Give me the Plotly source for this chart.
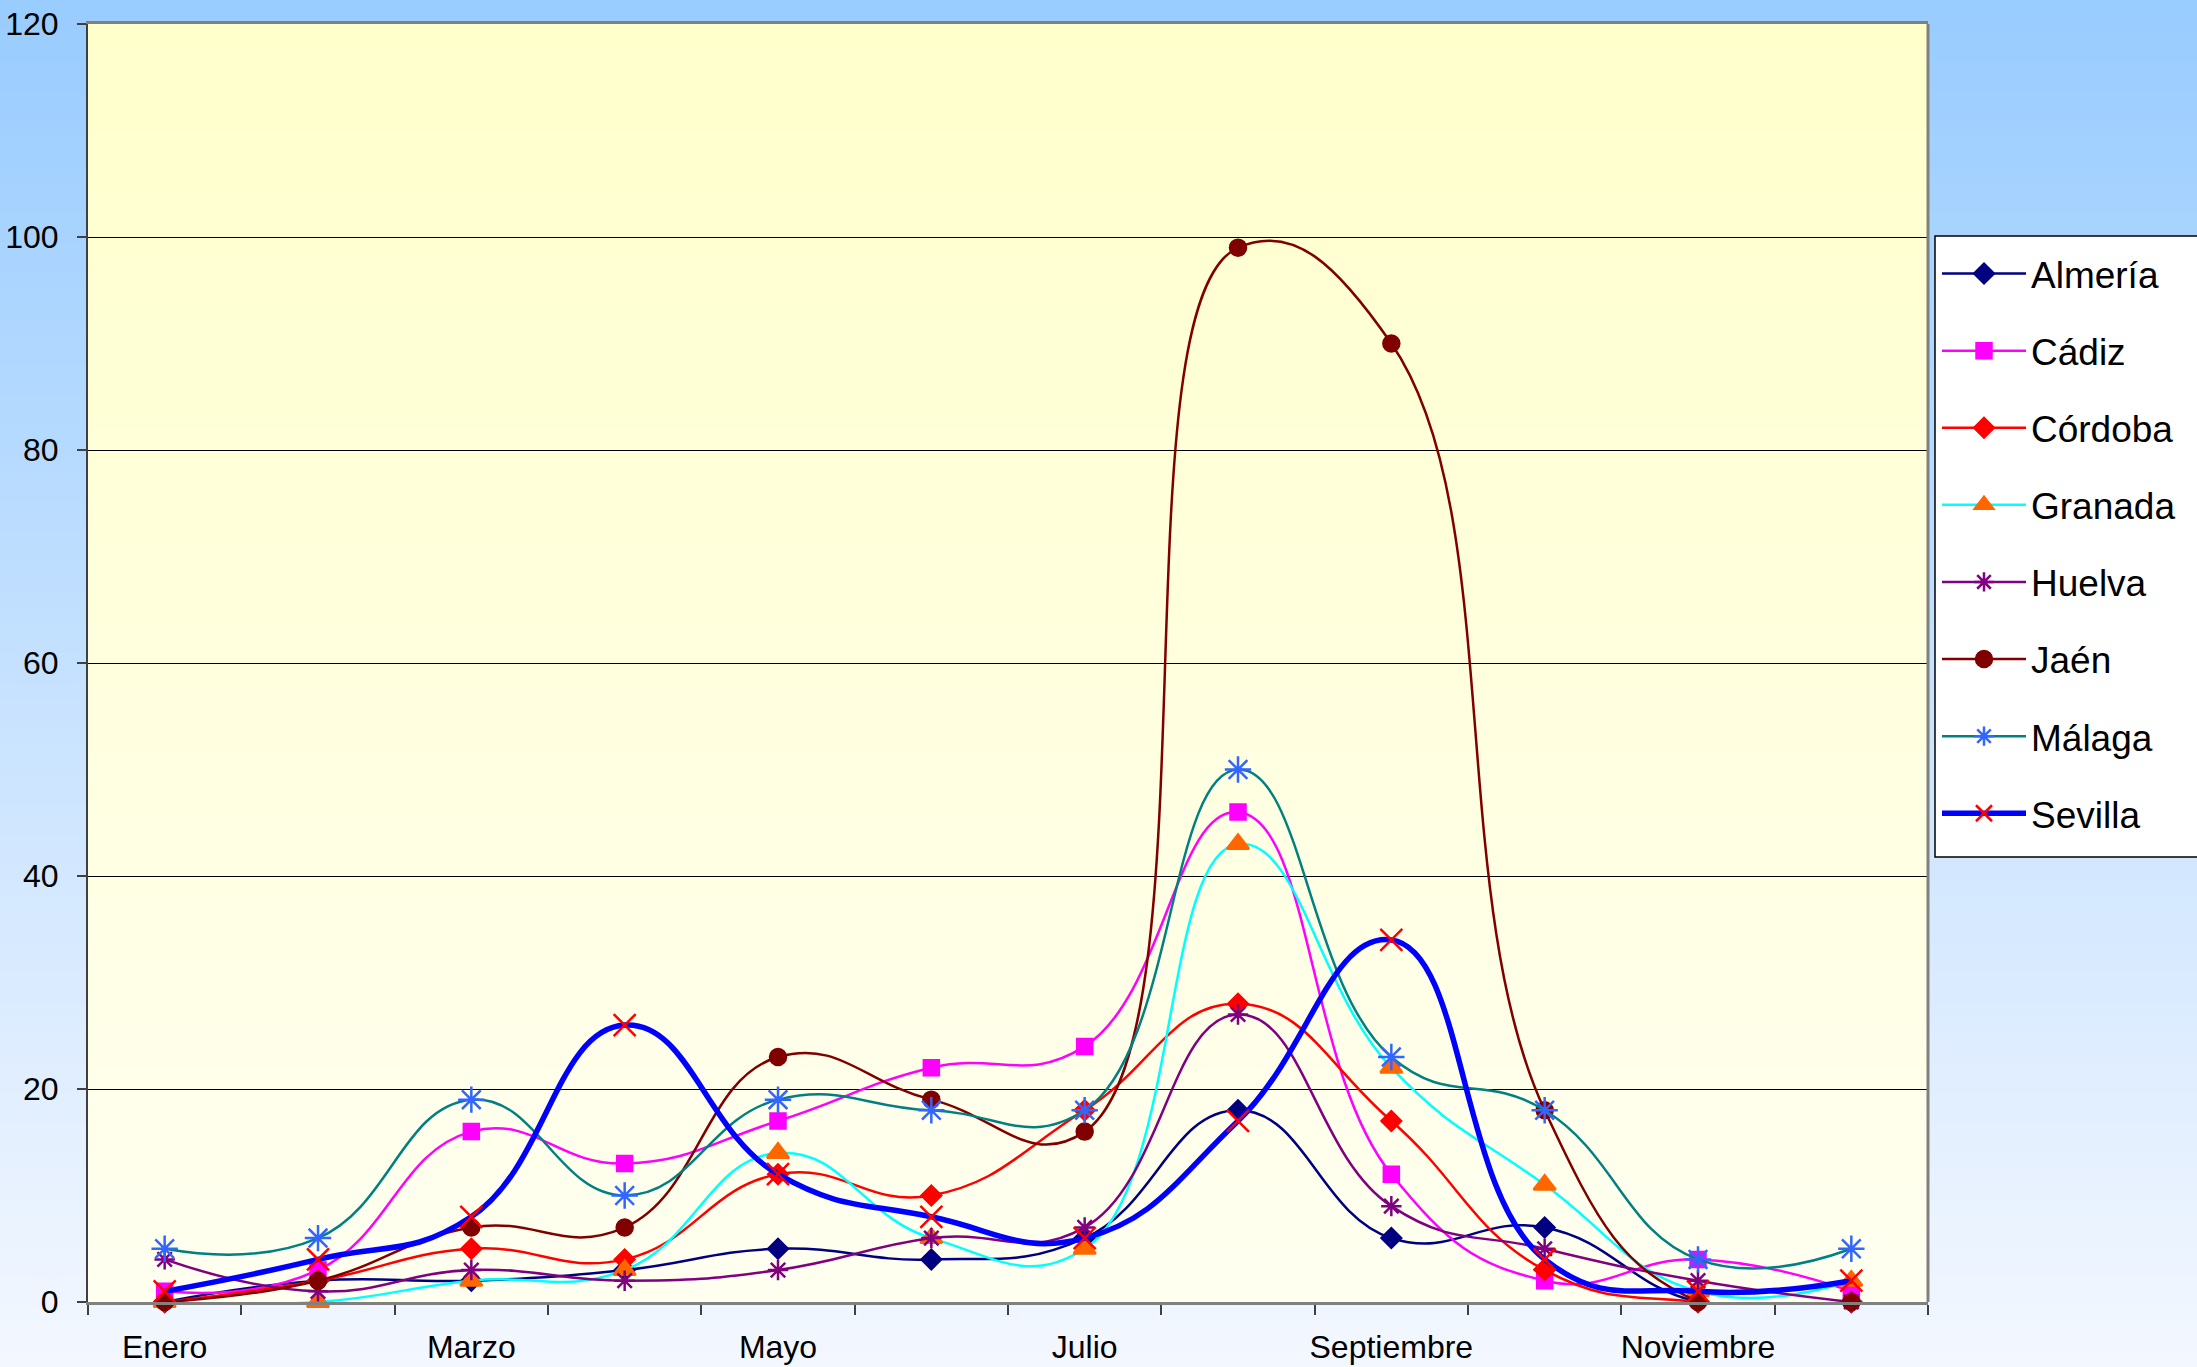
import plotly.graph_objects as go

# months on the x axis
months = ['Enero', 'Febrero', 'Marzo', 'Abril', 'Mayo', 'Junio', 'Julio',
          'Agosto', 'Septiembre', 'Octubre', 'Noviembre', 'Diciembre']

almeria = [0, 2, 2, 3, 5, 4, 6, 18, 6, 7, 0, 0]
cadiz = [1, 3, 16, 13, 17, 22, 24, 46, 12, 2, 4, 1]
cordoba = [0, 2, 5, 4, 12, 10, 18, 28, 17, 3, 0, 0]
granada = [0, 0, 2, 3, 14, 6, 5, 43, 22, 11, 1, 2]
huelva = [4, 1, 3, 2, 3, 6, 7, 27, 9, 5, 2, 0]
jaen = [0, 2, 7, 7, 23, 19, 16, 99, 90, 18, 0, 0]
malaga = [5, 6, 19, 10, 19, 18, 18, 50, 23, 18, 4, 5]
sevilla = [1, 4, 8, 26, 12, 8, 6, 17, 34, 4, 1, 2]

W, H = 2197, 1367
ML, MR, MT, MB = 88, 269, 24, 65
PW, PH = W - ML - MR, H - MT - MB

x = list(range(len(months)))

# (name, values, line colour, line width, marker symbol, marker colour, marker size)
series = [
    ('Almería', almeria, '#000080', 2.5, 'diamond', '#000080', 15),
    ('Cádiz', cadiz, '#FF00FF', 2.5, 'square', '#FF00FF', 15),
    ('Córdoba', cordoba, '#FF0000', 2.5, 'diamond', '#FF0000', 15),
    ('Granada', granada, '#00FFFF', 2.5, 'triangle-up', '#FF6600', 19),
    ('Huelva', huelva, '#800080', 2.5, 'asterisk-open', '#800080', 17),
    ('Jaén', jaen, '#800000', 2.5, 'circle', '#800000', 16),
    ('Málaga', malaga, '#008080', 2.5, 'asterisk-open', '#3366FF', 22),
    ('Sevilla', sevilla, '#0000FF', 5.5, 'x-thin-open', '#FF0000', 22),
]

fig = go.Figure()
for i, (name, vals, lc, lw, sym, mc, ms) in enumerate(series):
    fig.add_trace(go.Scatter(
        x=x, y=vals, name=name, mode='lines+markers', legendgroup=name,
        line=dict(color=lc, width=lw, shape='spline', smoothing=1.3),
        marker=dict(symbol=sym, color=mc, size=ms, line=dict(color=mc, width=2.5)),
        cliponaxis=False))


def mix(c1, c2, t):
    return 'rgb(%d,%d,%d)' % tuple(round(a + (b - a) * t) for a, b in zip(c1, c2))


# gradient backgrounds built from thin bands
shapes = []
x0p, x1p = -ML / PW, 1 + MR / PW
y0p, y1p = -MB / PH, 1 + MT / PH
n = 90
for k in range(n):
    t = k / (n - 1)
    ya = y1p - (y1p - y0p) * k / n
    yb = y1p - (y1p - y0p) * (k + 1) / n - 0.002
    shapes.append(dict(type='rect', xref='paper', yref='paper', x0=x0p, x1=x1p, y0=yb, y1=ya,
                       fillcolor=mix((153, 204, 255), (243, 247, 255), t), line=dict(width=0),
                       layer='below'))
n = 60
for k in range(n):
    t = k / (n - 1)
    ya = 1 - k / n
    yb = max(0, 1 - (k + 1) / n - 0.002)
    shapes.append(dict(type='rect', xref='paper', yref='paper', x0=0, x1=1, y0=yb, y1=ya,
                       fillcolor=mix((255, 255, 204), (255, 255, 240), t), line=dict(width=0),
                       layer='below'))
shapes.append(dict(type='line', xref='paper', yref='paper', x0=1, x1=1, y0=0, y1=1,
                   line=dict(color='#808080', width=3)))
# legend frame, running off the right edge as in the original
shapes.append(dict(type='rect', xref='paper', yref='paper',
                   x0=(1935 - ML) / PW, x1=(W + 10 - ML) / PW,
                   y0=(H - MB - 857) / PH, y1=(H - MB - 236) / PH,
                   fillcolor='white', line=dict(color='black', width=1.5), layer='below'))

fig.update_layout(
    width=W, height=H,
    margin=dict(l=ML, r=MR, t=MT, b=MB, autoexpand=False),
    paper_bgcolor='#F3F7FF',
    plot_bgcolor='rgba(0,0,0,0)',
    font=dict(family='Liberation Sans, Arial, sans-serif', color='black', size=32),
    shapes=shapes,
    showlegend=True,
    legend=dict(x=(1937 - ML) / PW, y=(H - MB - 243) / PH, xanchor='left', yanchor='top',
                bgcolor='rgba(0,0,0,0)', borderwidth=0,
                font=dict(size=37), tracegroupgap=26, itemwidth=84,
                traceorder='grouped'),
    xaxis=dict(range=[-0.5, 11.5], tickvals=x[::2], ticktext=months[::2], ticks='',
               showgrid=False, zeroline=False, showline=True, linecolor='#808080',
               linewidth=3, mirror=True, ticklabelstandoff=15,
               minor=dict(tickvals=[i - 0.5 for i in range(13)], ticks='outside',
                          ticklen=10, tickcolor='#404040', tickwidth=1.5, showgrid=False)),
    yaxis=dict(range=[0, 120], dtick=20, ticks='outside', ticklen=9, tickcolor='#404040',
               tickwidth=1.5, showgrid=True, gridcolor='black', gridwidth=1.2,
               zeroline=False, showline=True, linecolor='#404040', linewidth=2,
               ticklabelstandoff=12),
)

fig.write_html('out.html', config={'displayModeBar': False},
               post_script="document.body.style.margin='0';")
